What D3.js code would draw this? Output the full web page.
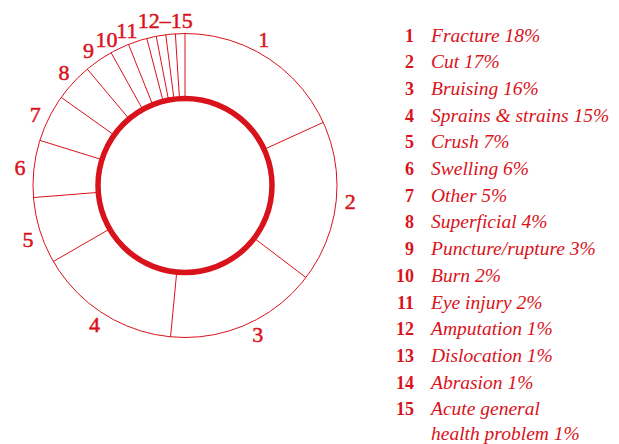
<!DOCTYPE html>
<html>
<head>
<meta charset="utf-8">
<script src="https://cdn.jsdelivr.net/npm/d3@7"></script>
<style>
  html, body { margin: 0; padding: 0; background: #fff; }
  svg { display: block; }
</style>
</head>
<body>
<svg id="chart" width="619" height="444"></svg>
<script>
// Injury types and their shares (%)
const categories = [
  "Fracture", "Cut", "Bruising", "Sprains & strains", "Crush", "Swelling",
  "Other", "Superficial", "Puncture/rupture", "Burn", "Eye injury",
  "Amputation", "Dislocation", "Abrasion", "Acute general\nhealth problem"
];
const values = [18, 17, 16, 15, 7, 6, 5, 4, 3, 2, 2, 1, 1, 1, 1];
// Ring labels: single slices get their own number, the last four share one
const ringLabels = ["1", "2", "3", "4", "5", "6", "7", "8", "9", "10", "11", "12–15"];
const ringLabelGroups = [[0], [1], [2], [3], [4], [5], [6], [7], [8], [9], [10], [11, 12, 13, 14]];

const RED = "#d8131b";
const svg = d3.select("#chart");
const cx = 185, cy = 185.5;
const rOuter = 152, rInner = 87, rLabel = 166;
// small angular nudges (degrees) so crowded ring numbers sit clear of each other
const labelNudge = [-4.4, -0.8, -2.4, 0.3, -1.7, 0, -0.8, 0.5, -1, -2.8, -2.3, 0.4];

const pie = d3.pie().sort(null).value(d => d)(values);

const g = svg.append("g").attr("transform", `translate(${cx},${cy})`);

// Outer rim
g.append("circle")
  .attr("r", rOuter)
  .attr("fill", "none")
  .attr("stroke", RED)
  .attr("stroke-width", 1);

// Slice boundaries (spokes between inner ring and rim)
g.selectAll("line.spoke")
  .data(pie)
  .join("line")
  .attr("class", "spoke")
  .attr("x1", d => rInner * Math.sin(d.startAngle))
  .attr("y1", d => -rInner * Math.cos(d.startAngle))
  .attr("x2", d => rOuter * Math.sin(d.startAngle))
  .attr("y2", d => -rOuter * Math.cos(d.startAngle))
  .attr("stroke", RED)
  .attr("stroke-width", 1);

// Thick inner ring
g.append("circle")
  .attr("r", rInner)
  .attr("fill", "none")
  .attr("stroke", RED)
  .attr("stroke-width", 5.5);

// Ring numbers around the middle angle of each slice group
g.selectAll("text.ring")
  .data(ringLabels.map((t, i) => {
    const idx = ringLabelGroups[i];
    const a0 = pie[idx[0]].startAngle;
    const a1 = pie[idx[idx.length - 1]].endAngle;
    const a = (a0 + a1) / 2 + labelNudge[i] * Math.PI / 180;
    return { text: t, x: rLabel * Math.sin(a), y: -rLabel * Math.cos(a) };
  }))
  .join("text")
  .attr("class", "ring")
  .attr("x", d => d.x)
  .attr("y", d => d.y)
  .attr("text-anchor", "middle")
  .attr("dy", "0.35em")
  .attr("font-family", "'Liberation Serif', 'DejaVu Serif', serif")
  .attr("font-size", 22)
  .attr("fill", RED)
  .attr("stroke", RED)
  .attr("stroke-width", 0.5)
  .text(d => d.text);

// Legend
const legend = svg.append("g");
const numX = 414, textX = 431, y0 = 41.5, rowH = 26.7, lineH = 25;
categories.forEach((name, i) => {
  const y = y0 + i * rowH;
  legend.append("text")
    .attr("x", numX).attr("y", y)
    .attr("text-anchor", "end")
    .attr("font-family", "'Liberation Serif', serif")
    .attr("font-weight", "bold")
    .attr("font-size", 18)
    .attr("fill", RED)
    .text(i + 1);
  const lines = name.split("\n");
  lines[lines.length - 1] += " " + values[i] + "%";
  lines.forEach((ln, j) => {
    legend.append("text")
      .attr("x", textX).attr("y", y + j * lineH)
      .attr("font-family", "'Liberation Serif', serif")
      .attr("font-style", "italic")
      .attr("font-size", 19.5)
      .attr("fill", RED)
      .text(ln);
  });
});
</script>
</body>
</html>
